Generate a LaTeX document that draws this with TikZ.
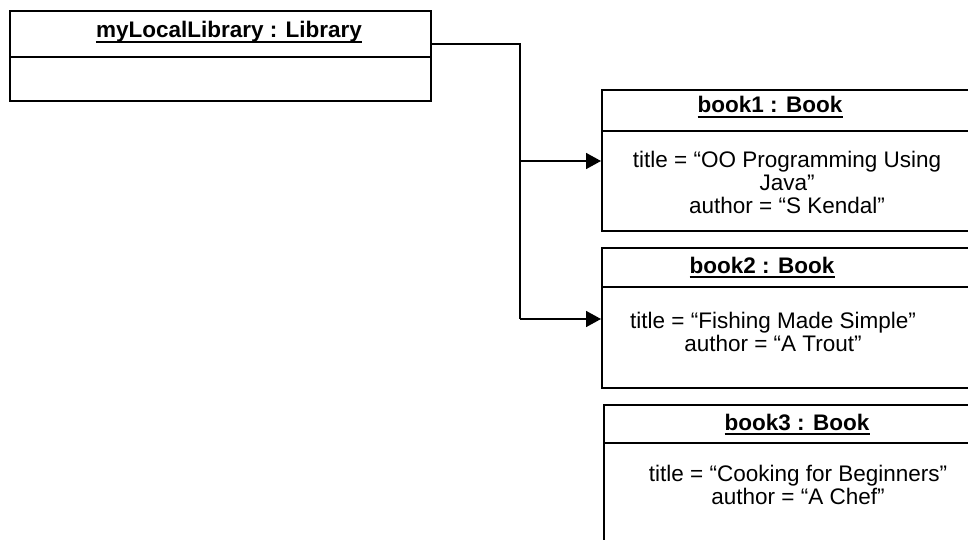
\documentclass[tikz,border=0pt]{standalone}
\usepackage{fontspec}
\setmainfont{Liberation Sans}
\usetikzlibrary{arrows.meta}

\begin{document}
\begin{tikzpicture}[x=1pt, y=-1pt, font=\fontsize{22.5}{23}\selectfont,
  objbox/.style={draw, line width=1.6pt, anchor=north west, inner sep=0pt},
  objline/.style={line width=1.6pt},
  objname/.style={font=\fontsize{22.5}{23}\selectfont\bfseries, anchor=base, inner sep=0pt, text depth=3.5pt},
  attrs/.style={align=center, anchor=base, inner sep=0pt},
  link/.style={line width=1.6pt},
  arr/.style={-{Triangle[length=15pt, width=16pt]}}]
\useasboundingbox (0,0) rectangle (968,540);
\clip (0,0) rectangle (968,540);
% objects
\node[objbox, minimum width=421pt, minimum height=90pt] (lib) at (9,10) {};
\draw[objline] (lib.west |- 0,57) -- (lib.east |- 0,57);
\node[objname] (libname) at (229,38) {myLocalLibrary : Library};
\node[objbox, minimum width=390pt, minimum height=141pt] (book1) at (601,89) {};
\draw[objline] (book1.west |- 0,131) -- (book1.east |- 0,131);
\node[objname] (b1name) at (770,113) {book1 : Book};
\node[attrs] (b1attr) at (787,213) {title = “OO Programming Using\\Java”\\author = “S Kendal”};
\node[objbox, minimum width=390pt, minimum height=140pt] (book2) at (601,247) {};
\draw[objline] (book2.west |- 0,287) -- (book2.east |- 0,287);
\node[objname] (b2name) at (762,273) {book2 : Book};
\node[attrs] (b2attr) at (773,351) {title = “Fishing Made Simple”\\author = “A Trout”};
\node[objbox, minimum width=390pt, minimum height=160pt] (book3) at (603,404) {};
\draw[objline] (book3.west |- 0,443) -- (book3.east |- 0,443);
\node[objname] (b3name) at (797,430) {book3 : Book};
\node[attrs] (b3attr) at (798,504) {title = “Cooking for Beginners”\\author = “A Chef”};
\foreach \n in {libname, b1name, b2name, b3name}
  \draw[line width=1.8pt] (\n.south west) -- (\n.south east);
% links
\coordinate (j1) at (520,161);
\coordinate (j2) at (520,319);
\draw[link] (lib.east |- 0,44) -| (j2);
\draw[link, arr] (j1) -- (j1 -| book1.west);
\draw[link, arr] (j2) -- (j2 -| book2.west);
\end{tikzpicture}
\end{document}
